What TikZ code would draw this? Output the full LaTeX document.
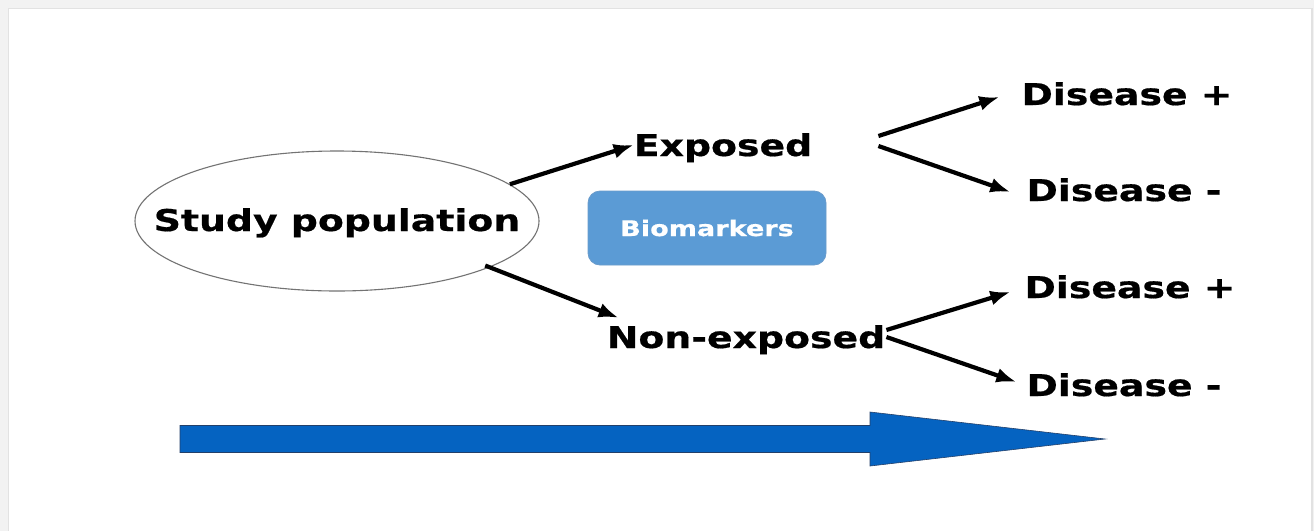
\documentclass[tikz,border=0pt]{standalone}
\usepackage{fontspec}
\setmainfont[FakeStretch=1.26, BoldFeatures={FakeBold=0.6}]{DejaVu Sans}
\usetikzlibrary{arrows.meta,shapes.geometric}
\definecolor{framegray}{HTML}{F2F2F2}
\definecolor{edgegray}{HTML}{E2E2E2}
\definecolor{boxblue}{HTML}{5B9BD5}
\definecolor{boxedge}{HTML}{6A9BCB}
\definecolor{timeblue}{HTML}{0563C1}
\definecolor{timeedge}{HTML}{23406A}
\begin{document}
\begin{tikzpicture}[x=1pt,y=-1pt,
  label/.style={inner sep=0pt, font=\fontsize{30}{34}\selectfont\bfseries,
                text height=22pt, text depth=0pt, anchor=center},
  link/.style={line width=4.2pt, -{Latex[length=20pt,width=15pt]}},
  markerbox/.style={draw=boxedge, line width=0.8pt, fill=boxblue,
                rounded corners=12pt, minimum width=238pt, minimum height=74pt,
                text=white, font=\fontsize{21.5}{24}\selectfont\bfseries}]
  \useasboundingbox (0,0) rectangle (1314,531);
  % page frame
  \fill[framegray] (0,0) rectangle (1314,531);
  \fill[white] (9,9) rectangle (1312,531);
  \draw[edgegray, line width=1.5pt] (8.5,531) -- (8.5,8.5) -- (1312,8.5) -- (1312,531);

  % nodes
  \node[ellipse, draw=black!55, line width=1.1pt, fill=white,
        minimum width=404pt, minimum height=140pt, inner sep=0pt]
        (pop) at (337,221) {};
  \node[label] (poptext) at (337,220) {Study population};
  \node[label] (exp) at (723,145) {Exposed};
  \node[label] (nonexp) at (746,337) {Non-exposed};
  \node[label] (dp1) at (1127,94) {Disease +};
  \node[label] (dm1) at (1124,190) {Disease -};
  \node[label] (dp2) at (1130,287) {Disease +};
  \node[label] (dm2) at (1124,385) {Disease -};
  \node[markerbox] (bio) at (707,228) {Biomarkers};

  % connectors
  \draw[link] (pop.12) -- (exp.west);
  \draw[link] ([shift={(-4,-2)}]pop.-17) -- ([shift={(12,-8)}]nonexp.north west);
  \draw[link] ([shift={(66,-9)}]exp.east) -- ([shift={(-22,3)}]dp1.west);
  \draw[link] ([shift={(66,1)}]exp.east) -- ([shift={(-16,2)}]dm1.west);
  \draw[link] ([shift={(1,-7)}]nonexp.east) -- ([shift={(-14,5)}]dp2.west);
  \draw[link] ([shift={(1,0)}]nonexp.east) -- ([shift={(-10,-3)}]dm2.west);

  % time arrow
  \coordinate (tstart) at (180,439);
  \coordinate (ttip) at (1105,439);
  \fill[timeblue, draw=timeedge, line width=0.6pt]
    (tstart) ++(0,-13.5) -- (870,425.5) -- (870,412) -- (ttip)
    -- (870,466) -- (870,452.5) -- (180,452.5) -- cycle;
\end{tikzpicture}
\end{document}
